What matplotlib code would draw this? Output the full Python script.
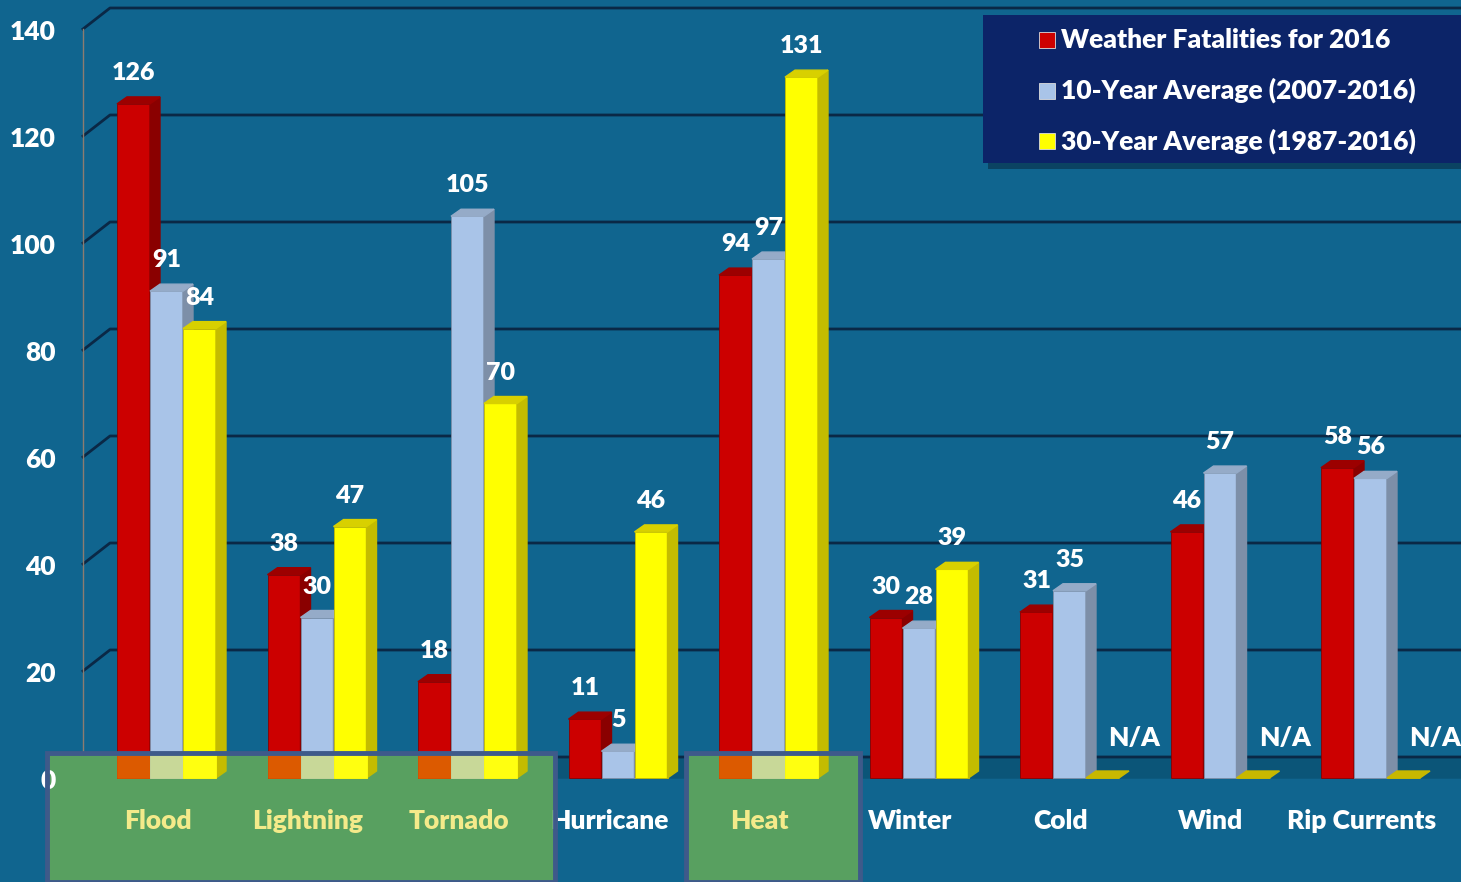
import matplotlib
matplotlib.use("Agg")
import matplotlib.pyplot as plt
from matplotlib.patches import Rectangle, Polygon, PathPatch
from matplotlib.path import Path

categories = ["Flood", "Lightning", "Tornado", "Hurricane", "Heat",
              "Winter", "Cold", "Wind", "Rip Currents"]
fatal_2016 = [126, 38, 18, 11, 94, 30, 31, 46, 58]
avg_10yr = [91, 30, 105, 5, 97, 28, 35, 57, 56]
avg_30yr = [84, 47, 70, 46, 131, 39, None, None, None]
series_names = ["Weather Fatalities for 2016",
                "10-Year Average (2007-2016)",
                "30-Year Average (1987-2016)"]
yticks = [0, 20, 40, 60, 80, 100, 120, 140]
highlighted = ["Flood", "Lightning", "Tornado", "Heat"]

plt.rcParams['font.family'] = ['Lato', 'DejaVu Sans']
plt.rcParams['font.weight'] = 'heavy'

front = ['#cc0000', '#a9c4e8', '#ffff00']
side = ['#8a0000', '#7d8fa8', '#c4bc00']
topc = ['#9c0000', '#95abc8', '#d8d000']
tint = ['#dc5a00', '#c8d898', '#ffff10']   # bar colours seen through the green boxes
bg = '#10658f'

# pixel layout of the original
W, H = 1461, 882
X0, UX = 166.5, 150.5   # pixel of x=0, px per category
Y0, UY = 778, 5.35      # pixel of value 0, px per unit

fig = plt.figure(figsize=(W / 100, H / 100), dpi=100, facecolor=bg)
ax = fig.add_axes([0, 0, 1, 1])
ax.set_facecolor(bg)
xmin, xmax = -X0 / UX, (W - X0) / UX
ax.set_xlim(xmin, xmax)
ax.set_ylim(-(H - Y0) / UY, Y0 / UY)
ax.axis('off')

def px(p):
    return (p - X0) / UX

def py(p):
    return (Y0 - p) / UY

bw = 33 / UX
ddx, ddy = 10 / UX, 7 / UY      # bar depth
gx, gy = 27 / UX, 21 / UY       # wall depth
xl = px(83)

# green highlight boxes (figure pixels)
boxes = [(47, 555), (686, 860)]
box_top = 753
box_paths = [Path.unit_rectangle().transformed(
    matplotlib.transforms.Affine2D().scale((b - a) / W, (H - box_top) / H).translate(a / W, 0))
    for a, b in boxes]
clip = PathPatch(Path.make_compound_path(*box_paths), transform=fig.transFigure,
                 facecolor='none', edgecolor='none')
ax.add_patch(clip)

# floor and back wall grid
ax.add_patch(Polygon([(xl, 0), (xl + gx, gy), (xmax, gy), (xmax, 0)],
                     closed=True, color='#0b5578', zorder=0.5))
for v in yticks:
    ax.plot([xl, xl + gx, xmax], [v, v + gy, v + gy], color='#0a2846', lw=2, zorder=1)
    ax.text(px(56), v - 3 / UY, str(v), ha='right', va='center',
            color='white', fontsize=19, zorder=6)
ax.plot([xl, xl], [0, yticks[-1]], color='#8c7c70', lw=1, zorder=1)

for a, b in boxes:
    ax.add_patch(Rectangle((a / W, 0), (b - a) / W, (H - box_top) / H,
                           transform=fig.transFigure, facecolor='#58a060',
                           edgecolor='none', zorder=1.5))

series = [fatal_2016, avg_10yr, avg_30yr]
for s, vals in enumerate(series):
    xs = [i + (s - 1) * bw for i in range(len(categories))]
    hs = [v if v is not None else 0 for v in vals]
    ax.bar(xs, hs, width=bw, color=front[s], edgecolor=side[s], lw=0.6,
           zorder=2 + s)
    tinted = ax.bar(xs, hs, width=bw, color=tint[s], edgecolor=tint[s], lw=0.6,
                    zorder=2.1 + s)
    for p in tinted:
        p.set_clip_path(clip)
    for x, v in zip(xs, vals):
        r = x + bw / 2
        l = x - bw / 2
        if v is None:
            ax.add_patch(Polygon([(l, 0), (l + ddx, ddy), (r + ddx, ddy), (r, 0)],
                                 closed=True, color='#c8b800', zorder=2 + s))
            ax.text(x + 32 / UX, 40 / UY, "N/A", ha='center', va='center',
                    color='white', fontsize=19, zorder=6)
            continue
        ax.add_patch(Polygon([(r, 0), (r + ddx, ddy), (r + ddx, v + ddy), (r, v)],
                             closed=True, color=side[s], zorder=2 + s))
        ax.add_patch(Polygon([(l, v), (l + ddx, v + ddy), (r + ddx, v + ddy), (r, v)],
                             closed=True, color=topc[s], zorder=2 + s))
        ax.text(x, v + 31 / UY, str(v), ha='center', va='center',
                color='white', fontsize=18, zorder=6)

for a, b in boxes:
    ax.add_patch(Rectangle((a / W, 0), (b - a) / W, (H - box_top) / H,
                           transform=fig.transFigure, facecolor='none',
                           edgecolor='#3e5a8a', lw=3.5, zorder=7.5))

for i, c in enumerate(categories):
    col = '#f4ea8a' if c in highlighted else 'white'
    ax.text(i - 9 / UX, py(821), c, ha='center', va='center',
            color=col, fontsize=19, zorder=7)

# legend
ax.add_patch(Rectangle((988 / W, 1 - 169 / H), (W - 983) / W, 148 / H,
                       transform=fig.transFigure, facecolor='#0a3550',
                       alpha=0.7, edgecolor='none', zorder=7))
ax.add_patch(Rectangle((983 / W, 1 - 163 / H), (W - 983) / W, 148 / H,
                       transform=fig.transFigure, facecolor='#0c2468',
                       edgecolor='none', zorder=8))
for k, name in enumerate(series_names):
    yy = 1 - (40 + 50.5 * k) / H
    ax.add_patch(Rectangle((1039 / W, yy - 8 / H), 16 / W, 16 / H,
                           transform=fig.transFigure, facecolor=front[k],
                           edgecolor='#dddddd', lw=0.6, zorder=9))
    fig.text(1061 / W, yy, name, ha='left', va='center', color='white',
             fontsize=19, zorder=9)

plt.savefig("out.png", dpi=100, facecolor=bg)
